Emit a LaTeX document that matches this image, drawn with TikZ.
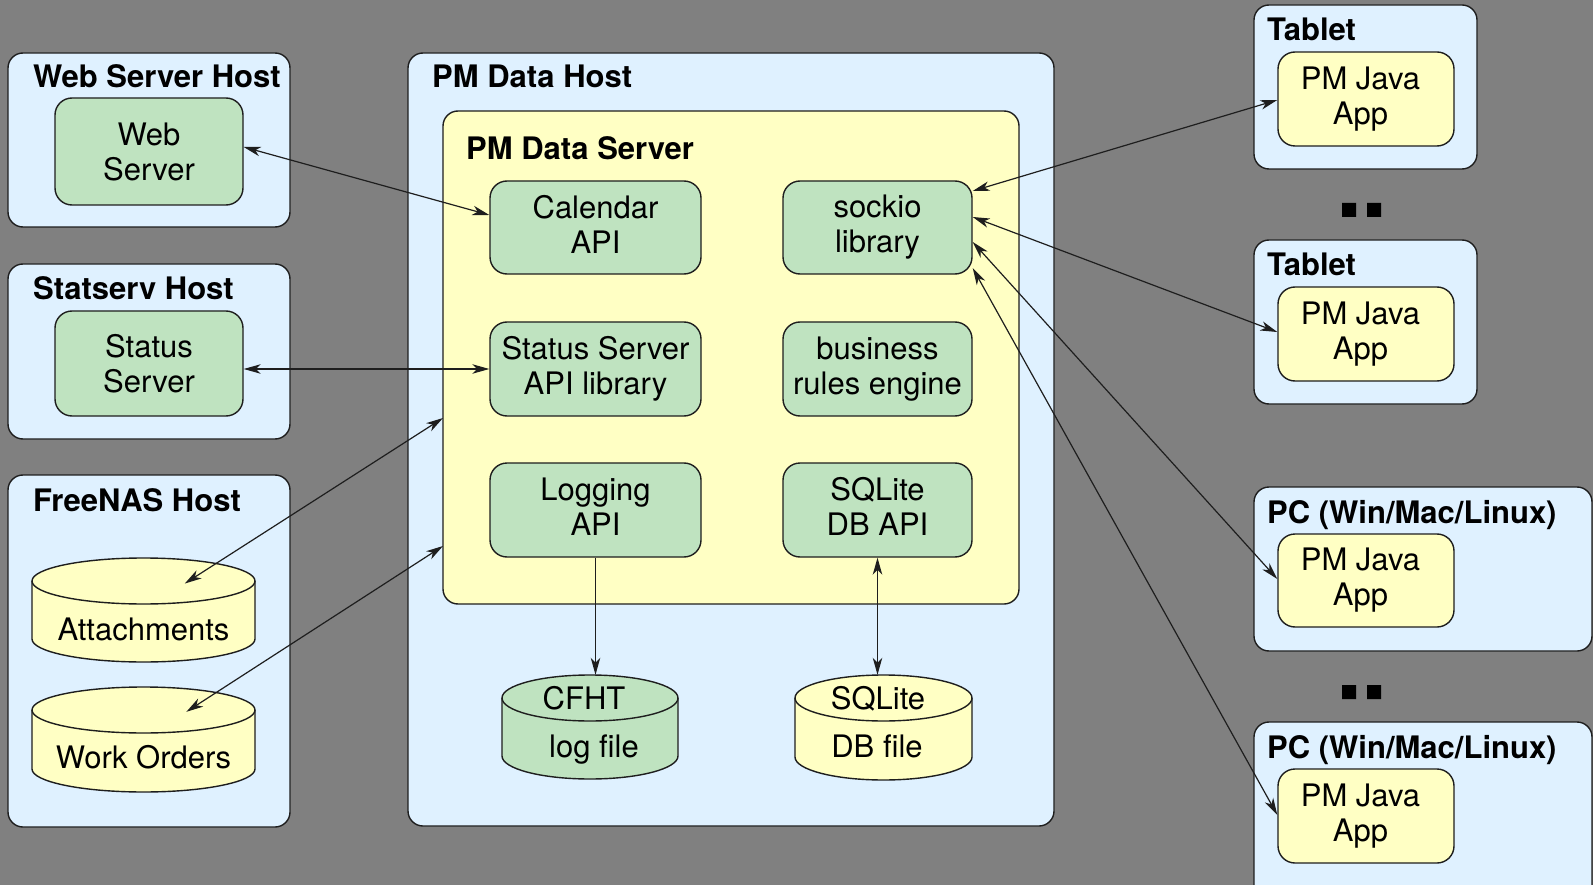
\documentclass[tikz,border=0pt]{standalone}
\usepackage{fontspec}
\setmainfont{TeX Gyre Heros}
\usetikzlibrary{arrows.meta,calc}

\definecolor{bggray}{RGB}{128,128,128}
\definecolor{hostblue}{RGB}{223,241,255}
\definecolor{srvyellow}{RGB}{255,255,196}
\definecolor{modgreen}{RGB}{191,227,192}
\definecolor{edgeink}{RGB}{30,30,30}

% storage cylinder: name, left, top, right, bottom (page units, y downwards), fill
\newcommand\dbdisk[6]{%
  \pgfmathsetmacro\dcx{(#2+#4)/2}%
  \pgfmathsetmacro\drx{(#4-#2)/2}%
  \filldraw[diskline, fill=#6]
    (#2,-#3-23) -- (#2,-#5+23)
    arc[start angle=180, end angle=360, x radius=\drx, y radius=23]
    -- (#4,-#3-23)
    arc[start angle=0, end angle=180, x radius=\drx, y radius=23] -- cycle;
  \draw[diskline] (#2,-#3-23)
    arc[start angle=180, end angle=360, x radius=\drx, y radius=23];
  \node[inner sep=0pt, minimum width=2*\drx, minimum height=#5-#3] (#1)
    at (\dcx,{-(#3+#5)/2}) {};
}

\begin{document}
\begin{tikzpicture}[x=1pt, y=1pt,
  txt/.style={font=\fontsize{31}{35}\selectfont, align=center},
  title/.style={font=\fontsize{31}{35}\selectfont\bfseries, anchor=base west, inner sep=0pt},
  frame/.style={draw=edgeink, line width=1.4pt, inner sep=0pt},
  host/.style={frame, rounded corners=15pt, fill=hostblue},
  server/.style={frame, rounded corners=15pt, fill=srvyellow},
  module/.style={frame, txt, rounded corners=17pt, fill=modgreen},
  pmmod/.style={module, execute at end node={\vphantom{y}}},
  app/.style={frame, rounded corners=17pt, fill=srvyellow,
    label={[txt, xshift=-5.5pt]center:{PM Java\\App}}},
  diskline/.style={draw=edgeink, line width=1.4pt},
  tip/.tip={Stealth[length=17pt, width=9.5pt, inset=5pt]},
  link/.style={draw=edgeink, line width=1.2pt, -tip},
  biarrow/.style={draw=edgeink, line width=1.2pt, tip-tip},
]
\useasboundingbox (0,0) rectangle (1593,-885);
\clip (0,0) rectangle (1593,-885);
\fill[bggray] (0,0) rectangle (1593,-885);

% ---- left column hosts
\node[host, minimum width=282, minimum height=174] (wsh) at (149,-140) {};
\node[title] (wsht) at (33,-88) {Web Server Host};
\node[module, minimum width=188, minimum height=107] (ws) at (149,-151.5) {Web\\Server};

\node[host, minimum width=282, minimum height=175] (ssh) at (149,-351.5) {};
\node[title] (ssht) at (33,-300) {Statserv Host};
\node[module, minimum width=188, minimum height=105] (ss) at (149,-363.5) {Status\\Server};

\node[host, minimum width=282, minimum height=352] (fnh) at (149,-651) {};
\node[title] (fnht) at (33,-511) {FreeNAS Host};
\dbdisk{att}{32}{558}{255}{662}{srvyellow}
\node[txt, anchor=base] (attl) at (143.5,-640) {Attachments};
\dbdisk{wo}{32}{687}{255}{792}{srvyellow}
\node[txt, anchor=base] (wol) at (143.5,-768) {Work Orders};

% ---- PM data host
\node[host, minimum width=646, minimum height=773] (pdh) at (731,-439.5) {};
\node[title] (pdht) at (432,-88) {PM Data Host};
\node[server, minimum width=576, minimum height=493] (pds) at (731,-357.5) {};
\node[title] (pdst) at (466,-160) {PM Data Server};

\node[pmmod, minimum width=211, minimum height=93] (cal) at (595.5,-227.5) {Calendar\\API};
\node[pmmod, minimum width=189, minimum height=93] (sock) at (877.5,-227.5) {sockio\\library};
\node[pmmod, minimum width=211, minimum height=94] (ssapi) at (595.5,-369) {Status Server\\API library};
\node[pmmod, minimum width=189, minimum height=94] (bre) at (877.5,-369) {business\\rules engine};
\node[pmmod, minimum width=211, minimum height=94] (log) at (595.5,-510) {Logging\\API};
\node[pmmod, minimum width=189, minimum height=94] (dbapi) at (877.5,-510) {SQLite\\DB API};

\dbdisk{cfht}{502}{675}{678}{779}{modgreen}
\node[txt, anchor=base] (cfhtl) at (584,-709) {CFHT};
\node[txt, anchor=base] (cfhtm) at (594,-757) {log file};
\dbdisk{dbf}{795}{675}{972}{780}{srvyellow}
\node[txt, anchor=base] (dbfl) at (878,-709) {SQLite};
\node[txt, anchor=base] (dbfm) at (877,-757) {DB file};

% ---- clients
\node[host, minimum width=223, minimum height=164] (tab1) at (1365.5,-87) {};
\node[title] (tab1t) at (1267,-41) {Tablet};
\node[app, minimum width=176, minimum height=94] (app1) at (1366,-99) {};

\node[host, minimum width=223, minimum height=164] (tab2) at (1365.5,-322) {};
\node[title] (tab2t) at (1267,-276) {Tablet};
\node[app, minimum width=176, minimum height=94] (app2) at (1366,-334) {};

\node[host, minimum width=338, minimum height=164] (pc1) at (1423,-569) {};
\node[title] (pc1t) at (1267,-523) {PC (Win/Mac/Linux)};
\node[app, minimum width=176, minimum height=93] (app3) at (1366,-580.5) {};

\node[host, minimum width=338, minimum height=188] (pc2) at (1423,-816) {};
\node[title] (pc2t) at (1267,-758) {PC (Win/Mac/Linux)};
\node[app, minimum width=176, minimum height=94] (app4) at (1366,-816) {};

% ellipsis marks between repeated clients
\fill[black] (1342,-203) rectangle (1356,-217) (1367,-203) rectangle (1381,-217);
\fill[black] (1342,-685) rectangle (1356,-699) (1367,-685) rectangle (1381,-699);

% ---- connectors
\coordinate (pdsA) at (443,-418);
\coordinate (pdsB) at (443,-546);

\draw[biarrow] ($(ws.east)+(0,4.5)$) -- ($(cal.west)+(0,12.5)$);
\draw[biarrow] (ss.east |- ssapi.west) -- (ssapi.west);
\draw[biarrow, shorten >=49pt] (pdsA) -- (att.center);
\draw[biarrow, shorten >=51pt] (pdsB) -- (wo.center);

\draw[biarrow] ($(sock.east)+(0,36.5)$) -- ($(app1.west)+(0,-1)$);
\draw[biarrow] ($(sock.east)+(0,10.5)$) -- ($(app2.west)+(0,2)$);
\draw[biarrow] ($(sock.east)+(0,-14.5)$) -- ($(app3.west)+(0,1.5)$);
\draw[biarrow] ($(sock.east)+(0,-40.5)$) -- ($(app4.west)+(0,1)$);

\draw[link] (log.south) -- (log.south |- cfht.north);
\draw[biarrow] (dbapi.south) -- (dbapi.south |- dbf.north);
\end{tikzpicture}
\end{document}
